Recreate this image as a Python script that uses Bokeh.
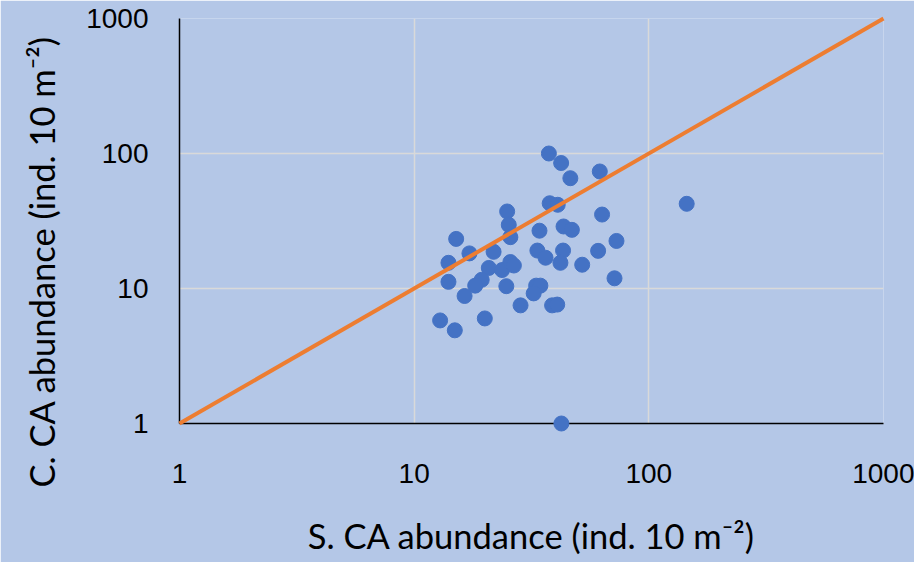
from bokeh.plotting import figure
from bokeh.models import FixedTicker, NumeralTickFormatter, Title
from bokeh.embed import file_html
from bokeh.resources import INLINE

# Abundance of CA (ind. 10 m-2) at each site: S. survey (x) vs C. survey (y)
s_abundance = [37.5, 42.3, 46.3, 61.8, 37.8, 40.9, 63.2, 24.9, 25.3, 25.7,
               15.1, 34.2, 43.3, 47.0, 72.8, 17.2, 21.8, 14.0, 33.5, 36.3,
               43.1, 42.0, 52.0, 60.8, 20.8, 23.7, 25.7, 26.6, 14.0, 19.4,
               18.2, 24.7, 33.1, 34.5, 32.3, 71.4, 16.4, 28.4, 38.7, 40.7,
               12.9, 20.0, 14.9, 42.4, 145.0]
c_abundance = [100.0, 85.0, 65.6, 73.6, 42.8, 41.7, 35.3, 37.2, 29.6, 24.0,
               23.3, 26.8, 28.8, 27.2, 22.5, 18.2, 18.7, 15.5, 19.1, 16.9,
               19.1, 15.5, 15.0, 19.0, 14.2, 13.7, 15.7, 14.8, 11.2, 11.6,
               10.5, 10.4, 10.5, 10.5, 9.2, 11.9, 8.8, 7.5, 7.5, 7.6,
               5.8, 6.0, 4.9, 1.0, 42.4]

axis_ticks = [1, 10, 100, 1000]
one_to_one = [1, 1000]

x_title = "S. CA abundance (ind. 10 m\u207b\u00b2)"
y_title = "C. CA abundance (ind. 10 m\u207b\u00b2)"

BG = "#B4C7E7"
GRID = "#D9D9D9"

p = figure(width=914, height=562,
           x_axis_type="log", y_axis_type="log",
           x_range=(1, 1000), y_range=(1, 1000),
           output_backend="svg", toolbar_location=None,
           min_border_left=179, min_border_right=31,
           min_border_top=18, min_border_bottom=139)

p.background_fill_color = BG
p.border_fill_color = BG
p.outline_line_color = None

for ax in (p.xaxis[0], p.yaxis[0]):
    ax.ticker = FixedTicker(ticks=axis_ticks, minor_ticks=[])
    ax.formatter = NumeralTickFormatter(format="0")
    ax.axis_line_color = "black"
    ax.axis_line_width = 1.5
    ax.major_tick_out = 0
    ax.major_tick_in = 0
    ax.minor_tick_out = 0
    ax.minor_tick_in = 0
    ax.major_label_text_font = "Liberation Sans"
    ax.major_label_text_font_size = "28px"
    ax.major_label_text_color = "black"

p.xaxis[0].major_label_standoff = 40
p.yaxis[0].major_label_standoff = 31

# x title sits under the tick labels
p.xaxis[0].axis_label = x_title
p.xaxis[0].axis_label_standoff = 29
p.xaxis[0].axis_label_text_font = "Lato"
p.xaxis[0].axis_label_text_font_size = "34.5px"
p.xaxis[0].axis_label_text_font_style = "normal"
p.xaxis[0].axis_label_text_color = "black"

# y title, starting a little below the frame bottom
p.add_layout(Title(text=y_title, align="left", vertical_align="top",
                   offset=-64, standoff=39,
                   text_font="Lato", text_font_size="34.5px",
                   text_font_style="normal", text_color="black"), "left")

for g in (p.xgrid[0], p.ygrid[0]):
    g.ticker = FixedTicker(ticks=axis_ticks, minor_ticks=[])
    g.grid_line_color = GRID
    g.grid_line_width = 1.5

# sites
p.scatter(s_abundance, c_abundance, size=15, color="#4472C4",
          line_color="#4472C4", level="annotation")

# 1:1 line
p.line(one_to_one, one_to_one, line_color="#ED7D31", line_width=4,
       level="overlay")

open("out.html", "w").write(file_html(p, INLINE))
